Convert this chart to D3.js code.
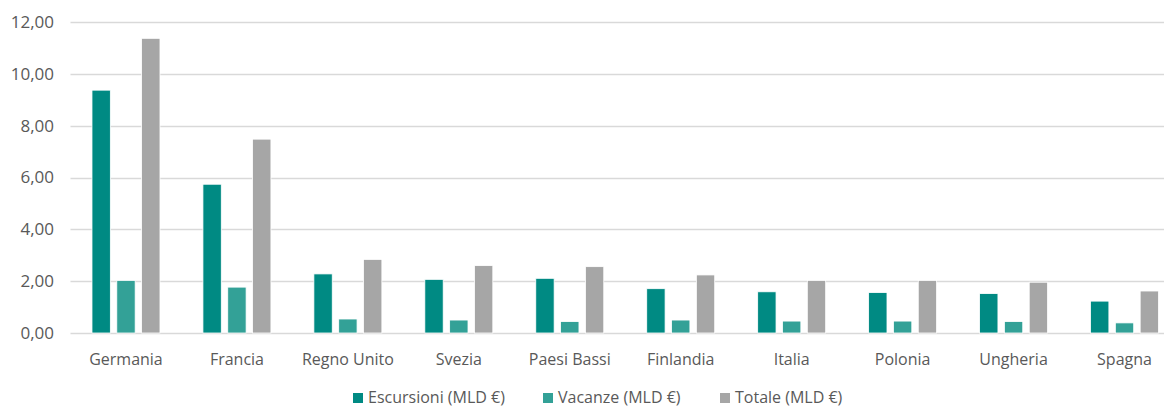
<!DOCTYPE html>
<html>
<head>
<meta charset="utf-8">
<script src="https://cdn.jsdelivr.net/npm/d3@7"></script>
<style>
  body { margin: 0; background: #ffffff; }
  svg { display: block; font-family: "Open Sans", "Noto Sans", sans-serif; }
</style>
</head>
<body>
<svg id="chart"></svg>
<script>
// Data
const paesi = ["Germania", "Francia", "Regno Unito", "Svezia", "Paesi Bassi",
               "Finlandia", "Italia", "Polonia", "Ungheria", "Spagna"];
const escursioni = [9.37, 5.74, 2.28, 2.07, 2.11, 1.71, 1.59, 1.56, 1.52, 1.23];
const vacanze    = [2.03, 1.77, 0.54, 0.50, 0.44, 0.50, 0.46, 0.46, 0.44, 0.39];
const totale     = [11.37, 7.48, 2.84, 2.60, 2.56, 2.24, 2.03, 2.03, 1.96, 1.62];
const serieNomi  = ["Escursioni (MLD €)", "Vacanze (MLD €)", "Totale (MLD €)"];
const yTicks     = [0, 2, 4, 6, 8, 10, 12];

const palette = ["#008A83", "#33A197", "#A6A6A6"];

const W = 1164, H = 410;
const margin = { top: 22, left: 70.5, bottom: 77 };
const plotRight = 1180;

const svg = d3.select("#chart")
  .attr("width", W)
  .attr("height", H);

const x0 = d3.scaleBand()
  .domain(paesi)
  .range([margin.left, plotRight])
  .paddingInner(0)
  .paddingOuter(0);

const serieKeys = [0, 1, 2];
const groupW = 68;
const x1 = d3.scaleBand()
  .domain(serieKeys)
  .range([0, groupW])
  .paddingInner(0.26);

const y = d3.scaleLinear()
  .domain([0, 12])
  .range([H - margin.bottom, margin.top]);

const fmt = v => d3.format(".2f")(v).replace(".", ",");

// gridlines
svg.append("g")
  .selectAll("line")
  .data(yTicks)
  .join("line")
    .attr("x1", margin.left)
    .attr("x2", plotRight)
    .attr("y1", d => Math.round(y(d)) + 0.5)
    .attr("y2", d => Math.round(y(d)) + 0.5)
    .attr("stroke", "#D9D9D9")
    .attr("stroke-width", 1.3);

// y tick labels
svg.append("g")
  .selectAll("text")
  .data(yTicks)
  .join("text")
    .attr("x", 54)
    .attr("y", d => y(d))
    .attr("dy", "0.35em")
    .attr("text-anchor", "end")
    .attr("fill", "#595959")
    .style("font-size", "17px")
    .text(fmt);

// bars
const rows = paesi.map((p, i) => ({ paese: p, vals: [escursioni[i], vacanze[i], totale[i]] }));

const groups = svg.append("g")
  .selectAll("g")
  .data(rows)
  .join("g")
    .attr("transform", d => `translate(${x0(d.paese) + (x0.bandwidth() - groupW) / 2},0)`);

groups.selectAll("rect")
  .data(d => d.vals.map((v, k) => ({ k, v })))
  .join("rect")
    .attr("x", d => x1(d.k))
    .attr("width", x1.bandwidth())
    .attr("y", d => y(d.v))
    .attr("height", d => y(0) - y(d.v))
    .attr("fill", d => palette[d.k])
    .attr("stroke", "#ffffff")
    .attr("stroke-width", 0.8);

// category labels
svg.append("g")
  .selectAll("text")
  .data(paesi)
  .join("text")
    .attr("x", d => x0(d) + x0.bandwidth() / 2)
    .attr("y", 365)
    .attr("text-anchor", "middle")
    .attr("fill", "#595959")
    .style("font-size", "16px")
    .text(d => d);

// legend
const legendX = [353, 543, 720];
const legend = svg.append("g")
  .selectAll("g")
  .data(serieNomi)
  .join("g")
    .attr("transform", (d, i) => `translate(${legendX[i]},393)`);

legend.append("rect")
  .attr("width", 10)
  .attr("height", 10)
  .attr("fill", (d, i) => palette[i]);

legend.append("text")
  .attr("x", 15)
  .attr("y", 5)
  .attr("dy", "0.33em")
  .attr("fill", "#595959")
  .style("font-size", "16px")
  .text(d => d);
</script>
</body>
</html>
